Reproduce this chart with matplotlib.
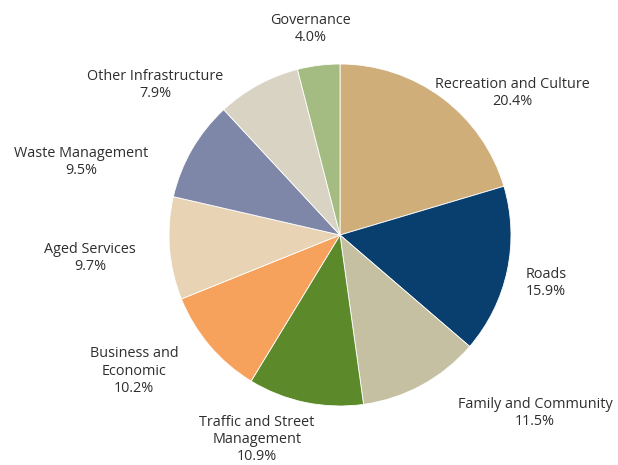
import matplotlib
matplotlib.use("Agg")
import matplotlib.pyplot as plt

categories = ["Recreation and Culture", "Roads", "Family and Community",
              "Traffic and Street\nManagement", "Business and\nEconomic",
              "Aged Services", "Waste Management", "Other Infrastructure",
              "Governance"]
shares = [20.4, 15.9, 11.5, 10.9, 10.2, 9.7, 9.5, 7.9, 4.0]
colors = ["#CFAE7A", "#083F6E", "#C5C0A1", "#5C8A2A", "#F7A25C",
          "#E8D4B4", "#7E87A8", "#D9D3C3", "#A4BC82"]

# label anchor points, in units of the pie radius
label_pos = [(1.006, 0.830), (1.205, -0.281), (1.140, -1.041),
             (-0.485, -1.196), (-1.205, -0.796), (-1.462, -0.135),
             (-1.515, 0.427), (-1.082, 0.877), (-0.170, 1.204)]

W, H = 618, 465
cx, cy, R = 340, 235, 171

fig = plt.figure(figsize=(W / 100, H / 100), dpi=100)
ax = fig.add_axes([0, 0, 1, 1])
ax.pie(shares, colors=colors, startangle=90, counterclock=False,
       radius=1.0, wedgeprops=dict(edgecolor="white", linewidth=0.6))
ax.set_xlim(-cx / R, (W - cx) / R)
ax.set_ylim((cy - H) / R, cy / R)
ax.set_aspect("equal")
ax.axis("off")

for name, val, (x, y) in zip(categories, shares, label_pos):
    ax.text(x, y, f"{name}\n{val:.1f}%", ha="center", va="center",
            fontsize=10.4, family="Open Sans", color="#2e2e2e",
            linespacing=1.2)

fig.savefig("out.png", dpi=100)
